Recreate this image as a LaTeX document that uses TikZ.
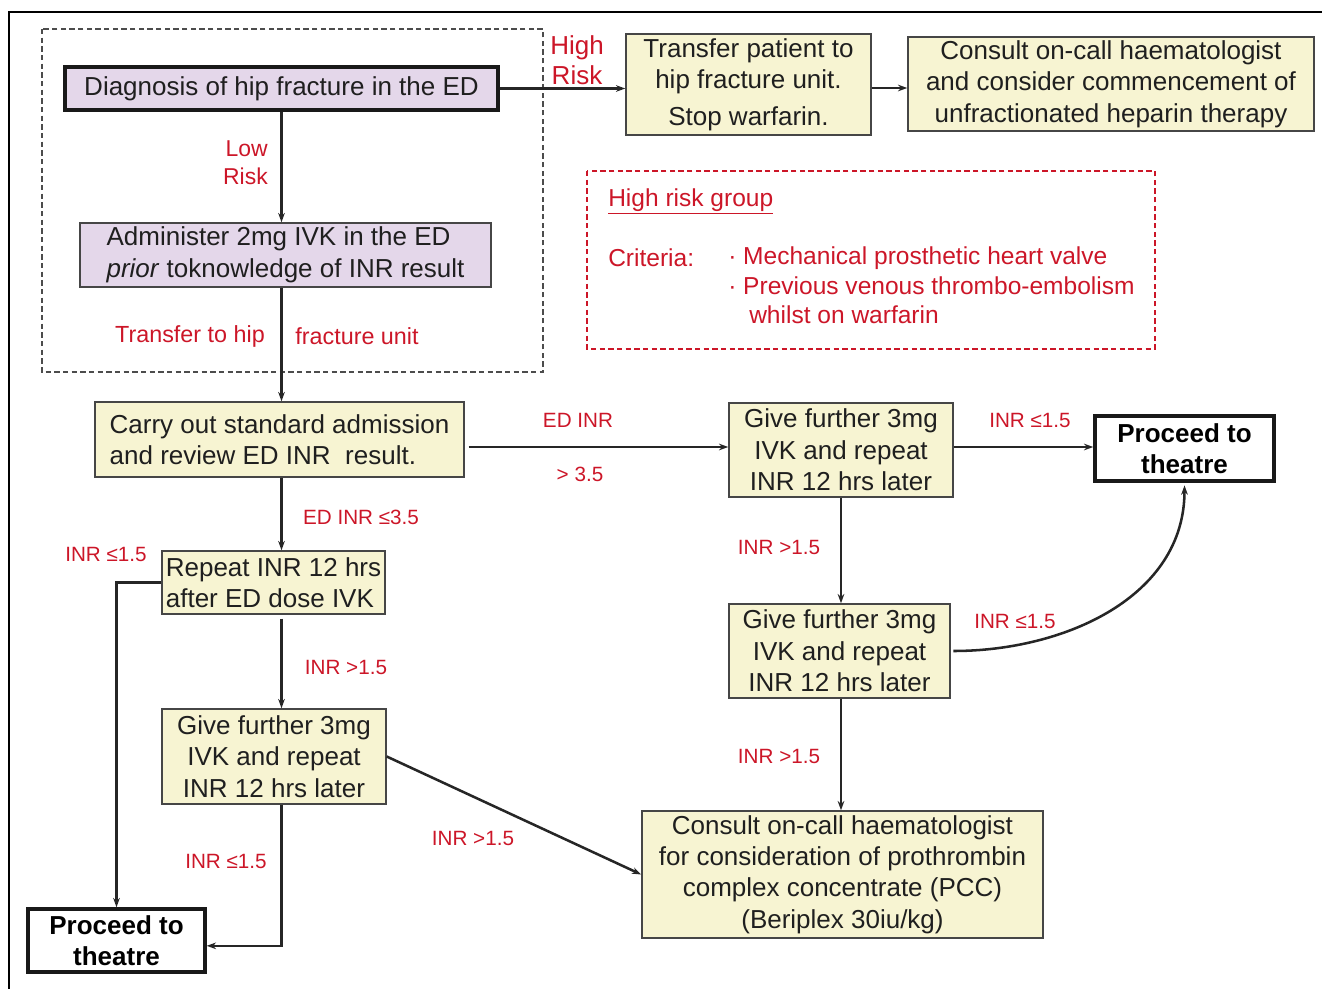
\documentclass[tikz,border=0pt]{standalone}
\usepackage{fontspec}
\setmainfont{Liberation Sans}
\usepackage{tikz}
\usetikzlibrary{arrows.meta, positioning}
\definecolor{lav}{RGB}{228,215,234}
\definecolor{cream}{RGB}{247,244,210}
\definecolor{lblred}{RGB}{204,22,40}
\definecolor{edge}{RGB}{70,70,70}
\tikzset{>={Stealth[length=7pt,width=5pt]}}
\tikzset{
  boxtxt/.style={font=\fontsize{19.5}{23.6}\selectfont, text=black!88},
  sz/.style 2 args={minimum width={#1*0.75pt}, minimum height={#2*0.75pt}, inner sep=0pt},
  purplebox/.style={boxtxt, draw=edge, fill=lav, line width=1.1pt},
  yellowbox/.style={boxtxt, draw=edge, fill=cream, line width=1.1pt, align=center},
  theatrebox/.style={font=\fontsize{19.5}{23.6}\selectfont\bfseries, draw=black!90, fill=white, line width=2.6pt, align=center},
  lbl/.style={text=lblred, font=\fontsize{15.5}{18}\selectfont, inner sep=0pt},
  grp/.style={text=lblred, font=\fontsize{18.4}{22}\selectfont, inner sep=0pt, anchor=west},
  conn/.style={line width=1.9pt, black!85},
}

\begin{document}
\begin{tikzpicture}[x=0.75pt,y=-0.75pt]
\useasboundingbox (0,0) rectangle (1322,989);
\draw[line width=1.6pt] (9,989) -- (9,12) -- (1322,12);
\draw[gray!60!black, line width=0.8pt, dash pattern=on 4pt off 2.5pt] (42,29) rectangle (543,372);
\draw[lblred, line width=0.8pt, dash pattern=on 4pt off 2.5pt] (587,171) rectangle (1155,349);

\node[purplebox, sz={433}{43}, draw=black!90, line width=2.4pt] (diag) at (281.5,88.5) {Diagnosis of hip fracture in the ED};
\node[purplebox, sz={411}{64}, align=left] (admin) at (285.5,255) {Administer 2mg IVK in the ED\\\textit{prior} toknowledge of INR result};
\node[yellowbox, sz={245}{101}] (trans) at (748.5,84.5) {Transfer patient to\\hip fracture unit.\\[4pt]Stop warfarin.};
\node[yellowbox, sz={406}{94}] (cons1) at (1111,84) {Consult on-call haematologist\\and consider commencement of\\unfractionated heparin therapy};
\node[yellowbox, sz={369}{75}, align=left] (carry) at (279.5,439.5) {Carry out standard admission\\and review ED INR\ \ result.};
\node[yellowbox, sz={224}{94}] (give1) at (841,450) {Give further 3mg\\IVK and repeat\\INR 12 hrs later};
\node[theatrebox, sz={179}{65}] (proc1) at (1184.5,448.5) {Proceed to\\theatre};
\node[yellowbox, sz={221}{94}] (give2) at (839.5,651) {Give further 3mg\\IVK and repeat\\INR 12 hrs later};
\node[yellowbox, sz={401}{127}] (cons2) at (842.5,874.5) {Consult on-call haematologist\\for consideration of prothrombin\\complex concentrate (PCC)\\(Beriplex 30iu/kg)};
\node[yellowbox, sz={223}{63}, align=left] (rep) at (273.5,582.5) {Repeat INR 12 hrs\\after ED dose IVK};
\node[yellowbox, sz={224}{95}] (give3) at (274,756.5) {Give further 3mg\\IVK and repeat\\INR 12 hrs later};
\node[theatrebox, sz={177}{63}] (proc2) at (116.5,940.5) {Proceed to\\theatre};

\node[grp] (grphead) at (608,201) {\underline{High risk group}};
\node[grp] (grpcrit) at (608,258) {Criteria:};
\node[grp] (grpone) at (728,258) {· Mechanical prosthetic heart valve};
\node[grp] (grptwo) at (728,286) {· Previous venous thrombo-embolism};
\node[grp] (grpthree) at (749,315) {whilst on warfarin};

\coordinate (rowtop) at (0,88);
\coordinate (rowmid) at (0,447);
\draw[conn,->] (diag.east) -- (diag.east -| trans.west);
\draw[conn,->] (trans.east |- rowtop) -- (cons1.west |- rowtop);
\draw[conn,->] (diag.south) -- (diag.south |- admin.north);
\draw[conn,->] (diag.south |- admin.south) -- (diag.south |- carry.north);
\draw[conn,->] (diag.south |- carry.south) -- (diag.south |- rep.north);
\draw[conn,->] ([yshift=-3pt]diag.south |- rep.south) -- (diag.south |- give3.north);
\draw[conn,->] ([xshift=3pt]carry.east |- rowmid) -- (give1.west |- rowmid);
\draw[conn,->] (give1.east |- rowmid) -- (proc1.west |- rowmid);
\draw[conn,->] (give1.south) -- (give2.north -| give1.south);
\draw[conn,->] (give2.south -| give1.south) -- (cons2.north -| give1.south);
\draw[conn,->] ([xshift=2pt]give2.east) to[out=0,in=-90] ([yshift=-2pt]proc1.south);
\draw[conn,->] (give3.east) -- (cons2.west);
\draw[conn,->] (rep.west) -| (proc2.north);
\draw[conn,->] (diag.south |- give3.south) |- ([yshift=-4pt]proc2.east);

\node[text=lblred, font=\fontsize{19.5}{22.5}\selectfont, align=center, inner sep=0pt] (lblhigh) at (577,60) {High\\Risk};
\node[text=lblred, font=\fontsize{17.2}{21}\selectfont, align=right, inner sep=0pt, anchor=east] (lbllow) at (268,163) {Low\\Risk};
\node[lbl, font=\fontsize{17.5}{20}\selectfont] (lbltrA) at (190,336) {Transfer to hip};
\node[lbl, font=\fontsize{17.5}{20}\selectfont] (lbltrB) at (357,336) {fracture unit};
\node[lbl] (lbledA) at (578,420) {ED INR};
\node[lbl] (lbledB) at (580,474) {> 3.5};
\node[lbl] (lbledC) at (361,517) {ED INR ≤3.5};
\node[lbl] (lblrepA) at (106,554) {INR ≤1.5};
\node[lbl] (lblrepB) at (346,667) {INR >1.5};
\node[lbl] (lblgA) at (1030,420) {INR ≤1.5};
\node[lbl] (lblgB) at (779,547) {INR >1.5};
\node[lbl] (lblgC) at (1015,621) {INR ≤1.5};
\node[lbl] (lblgD) at (779,756) {INR >1.5};
\node[lbl] (lblgE) at (473,838) {INR >1.5};
\node[lbl] (lblgF) at (226,861) {INR ≤1.5};
\end{tikzpicture}
\end{document}
